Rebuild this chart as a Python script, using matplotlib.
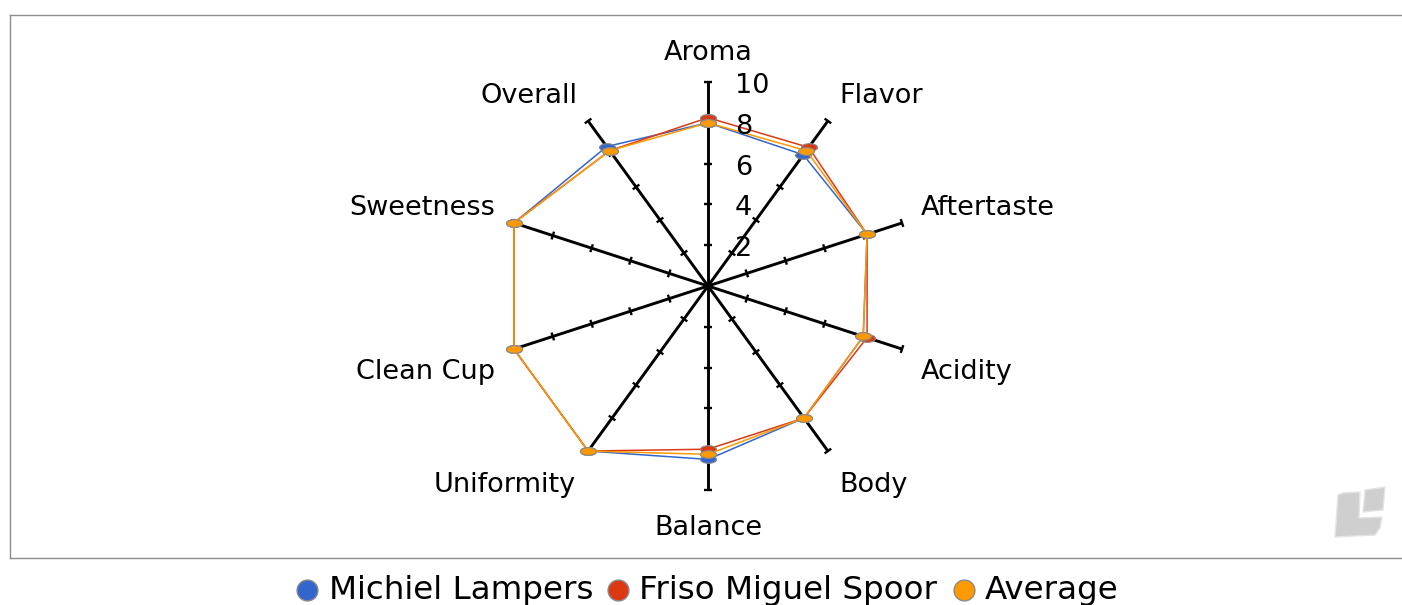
import numpy as np
import matplotlib; matplotlib.use("Agg"); import matplotlib.pyplot as plt
from matplotlib.lines import Line2D
from matplotlib.markers import MarkerStyle
from matplotlib.patches import Polygon
from matplotlib.transforms import Affine2D

W, H = 1402, 605
CX, CY = 708, 286     # centre of the radar in pixels
PX = 20.4             # pixels per score unit

categories = ["Aroma", "Flavor", "Aftertaste", "Acidity", "Body",
              "Balance", "Uniformity", "Clean Cup", "Sweetness", "Overall"]
michiel = [8.0, 7.95, 8.2, 8.0, 8.0, 8.5, 10, 10, 10, 8.45]
friso = [8.25, 8.4, 8.2, 8.2, 8.0, 8.0, 10, 10, 10, 8.2]
average = [8.0, 8.2, 8.2, 8.0, 8.0, 8.25, 10, 10, 10, 8.2]
series_names = ["Michiel Lampers", "Friso Miguel Spoor", "Average"]
series_colors = ["#3366cc", "#dc3912", "#ff9900"]
ticks = [2, 4, 6, 8, 10]

# label anchors in pixels (x, y, ha)
label_pos = [(708, 53, "center"), (839, 96, "left"), (921, 208, "left"),
             (921, 372, "left"), (839, 485, "left"), (708, 528, "center"),
             (576, 485, "right"), (495, 372, "right"), (495, 208, "right"),
             (577, 96, "right")]
legend_pos = [(307, 329), (618, 639), (964, 985)]

def fx(x):
    return x / W

def fy(y):
    return 1 - y / H

fig = plt.figure(figsize=(W / 100, H / 100), dpi=100)

# frame, open on the right where the image cuts it off
for xs, ys in [((10, W), (14.5, 14.5)), ((10, W), (558, 558)), ((10, 10), (14.5, 558))]:
    fig.add_artist(Line2D([fx(x) for x in xs], [fy(y) for y in ys], color="#8c8c8c", lw=1.0))

half = 224.4
ax = fig.add_axes([fx(CX - half), fy(CY + half), 2 * half / W, 2 * half / H])
ax.set_xlim(-half / PX, half / PX)
ax.set_ylim(-half / PX, half / PX)
ax.axis("off")

angles = np.arange(len(categories)) * 2 * np.pi / len(categories)
sin, cos = np.sin(angles), np.cos(angles)

for s, c in zip(sin, cos):
    ax.plot([0, 10 * s], [0, 10 * c], color="black", lw=2.1, zorder=1, solid_capstyle="butt")
    for t in ticks:
        ax.plot([t * s - 0.2 * c, t * s + 0.2 * c], [t * c + 0.2 * s, t * c - 0.2 * s],
                color="black", lw=1.7, zorder=1, solid_capstyle="butt")

flat = MarkerStyle("o", transform=Affine2D().scale(1, 0.48))
for vals, col in zip([michiel, friso, average], series_colors):
    r = np.array(vals + vals[:1], dtype=float)
    s = np.append(sin, sin[0])
    c = np.append(cos, cos[0])
    ax.plot(r * s, r * c, color=col, lw=1.1, zorder=3, marker=flat, ms=11.5,
            mfc=col, mec="#8a8a8a", mew=0.8)

for t in ticks:
    fig.text(fx(735), fy(CY - t * PX + 4), str(t), fontsize=19.5, ha="left", va="center")

for name, (x, y, ha) in zip(categories, label_pos):
    fig.text(fx(x), fy(y), name, fontsize=19.5, ha=ha, va="center")

# legend, clipped by the bottom of the image
for name, col, (mx, tx) in zip(series_names, series_colors, legend_pos):
    fig.add_artist(Line2D([fx(mx)], [fy(590)], marker="o", ms=15, mfc=col, mec="#8a8a8a", mew=1.0, ls="none"))
    fig.text(fx(tx), fy(591), name, fontsize=23.4, ha="left", va="center")

# faint logo, bottom right
logo = [[(1338, 495), (1343, 493), (1360, 492), (1359, 518), (1382, 517), (1380, 528),
         (1375, 535), (1335, 537)],
        [(1365, 490), (1385, 487), (1383, 510), (1363, 512)]]
for pts in logo:
    fig.add_artist(Polygon([(fx(x), fy(y)) for x, y in pts], closed=True, transform=fig.transFigure,
                           facecolor="#cfcfcf", edgecolor="#e4e4e4", lw=1.0))

fig.savefig("out.png", dpi=100)
